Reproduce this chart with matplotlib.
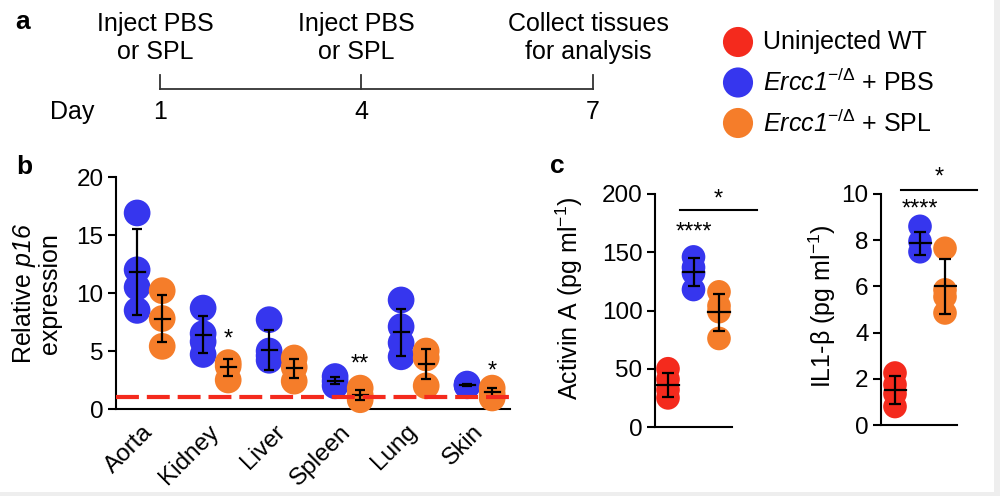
import numpy as np
import matplotlib
matplotlib.use('Agg')
import matplotlib.pyplot as plt

plt.rcParams['font.family'] = ['Liberation Sans', 'DejaVu Sans']
plt.rcParams['mathtext.fontset'] = 'custom'
plt.rcParams['mathtext.rm'] = 'Liberation Sans'
plt.rcParams['mathtext.it'] = 'Liberation Sans:italic'
plt.rcParams['mathtext.sf'] = 'Liberation Sans:italic'
plt.rcParams['axes.linewidth'] = 1.5

RED = '#f42a1d'
BLUE = '#3636ee'
ORANGE = '#f57d2a'

# --- panel a: timeline ---
days = [1, 4, 7]
events = ['Inject PBS\nor SPL', 'Inject PBS\nor SPL', 'Collect tissues\nfor analysis']
groups = ['Uninjected WT', r'$\mathsf{Ercc1}^{-/\Delta}$ + PBS', r'$\mathsf{Ercc1}^{-/\Delta}$ + SPL']

# --- panel b: relative p16 expression ---
tissues = ['Aorta', 'Kidney', 'Liver', 'Spleen', 'Lung', 'Skin']
p16_pbs = [[16.9, 12.0, 10.5, 8.5], [8.7, 6.5, 5.8, 4.7], [7.7, 5.0, 4.6, 4.2],
           [2.8, 2.4, 2.0], [9.4, 7.1, 5.7, 4.5], [2.15, 2.05, 2.0]]
p16_spl = [[10.2, 7.8, 5.4], [4.0, 3.7, 2.5], [4.4, 3.6, 2.4],
           [1.8, 1.2, 0.8], [5.0, 4.4, 2.0], [1.8, 1.3, 0.95]]
p16_pbs_mean = [11.8, 6.4, 5.1, 2.45, 6.6, 2.07]
p16_pbs_sd = [3.7, 1.6, 1.7, 0.3, 2.05, 0.1]
p16_spl_mean = [7.8, 3.6, 3.5, 1.2, 3.9, 1.45]
p16_spl_sd = [2.0, 0.75, 0.85, 0.45, 1.3, 0.4]
p16_wt_level = 1.0
p16_stars = {1: ('*', 6.0), 3: ('**', 3.8), 5: ('*', 3.2)}

# --- panel c: SASP factors ---
activin = [[50, 41, 32, 25], [146, 137, 132, 118], [116, 104, 99, 76]]
activin_mean = [36, 133, 98.5]
activin_sd = [10.3, 12, 16]
il1b = [[2.25, 1.75, 1.35, 0.8], [8.6, 7.95, 7.5], [7.65, 5.85, 5.55, 4.85]]
il1b_mean = [1.52, 7.86, 6.0]
il1b_sd = [0.6, 0.48, 1.2]

W, H = 1000, 496
fig = plt.figure(figsize=(10, 4.96), dpi=100)


def px_axes(l, t, r, b):
    return fig.add_axes([l / W, 1 - b / H, (r - l) / W, (b - t) / H])


def mean_sd(ax, x, m, sd, half, cap):
    ax.errorbar([x], [m], yerr=[sd], fmt='none', ecolor='black', elinewidth=1.6,
                capsize=cap, capthick=1.6, zorder=4)
    ax.plot([x - half, x + half], [m, m], color='black', lw=1.6, zorder=4)


# overlay for panel a and legend (pixel coordinates)
ov = fig.add_axes([0, 0, 1, 1])
ov.set_xlim(0, W)
ov.set_ylim(H, 0)
ov.axis('off')
ov.patch.set_alpha(0)

tick_x = [160, 361, 593]
ov.plot([tick_x[0], tick_x[-1]], [89, 89], color='#333333', lw=1.3)
for tx, d, ev in zip(tick_x, days, events):
    ov.plot([tx, tx], [89, 75], color='#333333', lw=1.3)
    ov.text(tx, 112, str(d), ha='center', va='center', fontsize=18)
    ov.text(tx - 5, 38, ev, ha='center', va='center', fontsize=18, linespacing=1.25)
ov.text(72, 112, 'Day', ha='center', va='center', fontsize=18)
ov.text(23, 22, 'a', ha='center', va='center', fontsize=19, fontweight='bold')
ov.text(24, 167, 'b', ha='center', va='center', fontsize=19, fontweight='bold')
ov.text(557, 166, 'c', ha='center', va='center', fontsize=19, fontweight='bold')

for i, (lab, col) in enumerate(zip(groups, [RED, BLUE, ORANGE])):
    y = 42 + i * 40.5
    ov.scatter([738], [y], s=470, color=col, edgecolors='none')
    ov.text(763, y, lab, ha='left', va='center', fontsize=18)

# panel b
axb = px_axes(116, 177, 510, 409)
xc = np.arange(len(tissues))
off = 0.19
for i in range(len(tissues)):
    axb.scatter([xc[i] - off] * len(p16_pbs[i]), p16_pbs[i], s=370, color=BLUE,
                edgecolors='none', zorder=3, clip_on=False)
    axb.scatter([xc[i] + off] * len(p16_spl[i]), p16_spl[i], s=370, color=ORANGE,
                edgecolors='none', zorder=3, clip_on=False)
    mean_sd(axb, xc[i] - off, p16_pbs_mean[i], p16_pbs_sd[i], 0.115, 3.3)
    mean_sd(axb, xc[i] + off, p16_spl_mean[i], p16_spl_sd[i], 0.115, 3.3)
for i, (s, y) in p16_stars.items():
    axb.text(xc[i] + off, y, s, ha='center', va='center', fontsize=17)
axb.axhline(p16_wt_level, color=RED, lw=3, linestyle=(0, (5.5, 1.9)), zorder=5)
axb.set_xlim(-0.51, 5.46)
axb.set_ylim(0, 20)
axb.set_yticks([0, 5, 10, 15, 20])
axb.set_xticks(xc)
axb.set_xticklabels(tissues, rotation=45, ha='right', va='center', rotation_mode='anchor')
axb.tick_params(axis='x', length=0, pad=14, labelsize=17.5)
axb.tick_params(axis='y', length=6, width=1.5, pad=3, labelsize=17.5)
for sp in ['top', 'right']:
    axb.spines[sp].set_visible(False)
fig.text(36 / W, 1 - 294 / H, 'Relative $\\mathsf{p16}$\nexpression', rotation=90,
         ha='center', va='center', fontsize=18, linespacing=1.05)


def panel_c(l, t, r, b, data, means, sds, ylim, yt, xl, bracket, ylab, labx, laby):
    ax = px_axes(l, t, r, b)
    for j, (pts, col) in enumerate(zip(data, [RED, BLUE, ORANGE])):
        ax.scatter([j] * len(pts), pts, s=290, color=col, edgecolors='none', zorder=3,
                   clip_on=False)
        mean_sd(ax, j, means[j], sds[j], 0.42, 4.5)
    ax.set_xlim(*xl)
    ax.set_ylim(*ylim)
    ax.set_yticks(yt)
    ax.set_xticks([])
    ax.tick_params(axis='y', length=6, width=1.5, pad=3, labelsize=17.5)
    for sp in ['top', 'right']:
        ax.spines[sp].set_visible(False)
    bx0, bx1, by, sy, s4y = bracket
    ax.plot([bx0, bx1], [by, by], color='black', lw=1.5, clip_on=False)
    ax.text((bx0 + bx1) / 2, sy, '*', ha='center', va='center', fontsize=17)
    ax.text(1, s4y, '****', ha='center', va='center', fontsize=17)
    fig.text(labx / W, 1 - laby / H, ylab, rotation=90, ha='center', va='center', fontsize=18)
    return ax


panel_c(655, 194, 732, 427, activin, activin_mean, activin_sd, (0, 200),
        [0, 50, 100, 150, 200], (-0.51, 2.51), (0.47, 3.49, 186.5, 195, 166.5),
        'Activin A (pg ml$^{-1}$)', 569, 298)
panel_c(881, 194, 957, 425, il1b, il1b_mean, il1b_sd, (0, 10),
        [0, 2, 4, 6, 8, 10], (-0.56, 2.48), (0.24, 3.28, 10.17, 10.7, 9.33),
        'IL1-β (pg ml$^{-1}$)', 822, 306)

# faint frame on right/bottom edge
ov.add_patch(plt.Rectangle((994, 0), 6, H, color='#eeeeee', lw=0))
ov.add_patch(plt.Rectangle((0, 492), W, 4, color='#eeeeee', lw=0))

fig.savefig('out.png', dpi=100)
